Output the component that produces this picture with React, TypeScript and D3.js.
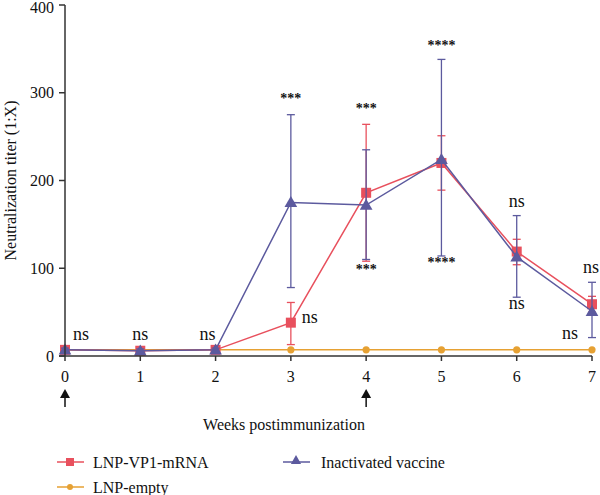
import React from "react";
import * as d3 from "d3";

// Weeks after the first immunization
const weeks = [0, 1, 2, 3, 4, 5, 6, 7];
const yTicks = [0, 100, 200, 300, 400];

// Mean neutralization titer with error-bar low/high per group
const mrnaMean = [7, 6, 7, 38, 186, 220, 119, 59];
const mrnaLow = [5, 5, 5, 13, 108, 189, 104, 50];
const mrnaHigh = [9, 8, 9, 61, 264, 251, 133, 68];

const inactMean = [7, 6, 7, 175, 172, 224, 113, 51];
const inactLow = [5, 5, 5, 78, 110, 114, 67, 21];
const inactHigh = [9, 8, 9, 275, 235, 338, 160, 84];

const emptyMean = [7, 7, 7, 7, 7, 7, 7, 7];

// Significance labels: week, text, offset from the baseline
const annotations: { week: number; text: string; dx: number; dy: number }[] = [
  { week: 0, text: "ns", dx: 16, dy: -16 },
  { week: 1, text: "ns", dx: 0, dy: -16 },
  { week: 2, text: "ns", dx: -8, dy: -16 },
  { week: 3, text: "***", dx: 0, dy: -253 },
  { week: 3, text: "ns", dx: 19, dy: -33 },
  { week: 4, text: "***", dx: 0, dy: -243 },
  { week: 4, text: "***", dx: 0, dy: -82 },
  { week: 5, text: "****", dx: 0, dy: -306 },
  { week: 5, text: "****", dx: 0, dy: -89 },
  { week: 6, text: "ns", dx: 0, dy: -149 },
  { week: 6, text: "ns", dx: 0, dy: -47 },
  { week: 7, text: "ns", dx: -1, dy: -83 },
  { week: 7, text: "ns", dx: -22, dy: -17 },
];
const arrowWeeks = [0, 4];

const RED = "#e8505d";
const PURPLE = "#5c5a9e";
const ORANGE = "#e6a133";
const FONT = "Liberation Serif, Tinos, Times New Roman, DejaVu Serif, serif";

export default function App() {
  const width = 600;
  const height = 495;
  const x = d3.scaleLinear().domain([0, 7]).range([65, 592]);
  const y = d3.scaleLinear().domain([0, 400]).range([356, 5]);
  const line = d3
    .line<number>()
    .x((_, i) => x(weeks[i]))
    .y((d) => y(d));

  const errorBars = (low: number[], high: number[], color: string) =>
    weeks.map((w, i) => (
      <g key={w} stroke={color} strokeWidth={1.3}>
        <line x1={x(w)} x2={x(w)} y1={y(low[i])} y2={y(high[i])} />
        <line x1={x(w) - 4} x2={x(w) + 4} y1={y(low[i])} y2={y(low[i])} />
        <line x1={x(w) - 4} x2={x(w) + 4} y1={y(high[i])} y2={y(high[i])} />
      </g>
    ));

  const triangle = d3.symbol(d3.symbolTriangle, 70)()!;

  return (
    <svg
      width={width}
      height={height}
      style={{ position: "absolute", left: 0, top: 0, background: "#fff", fontFamily: FONT }}
    >
      {/* LNP-empty */}
      <path d={line(emptyMean)!} fill="none" stroke={ORANGE} strokeWidth={1.5} />
      {weeks.map((w, i) => (
        <circle key={w} cx={x(w)} cy={y(emptyMean[i])} r={3.6} fill={ORANGE} />
      ))}

      {/* LNP-VP1-mRNA */}
      {errorBars(mrnaLow, mrnaHigh, RED)}
      <path d={line(mrnaMean)!} fill="none" stroke={RED} strokeWidth={1.5} />
      {weeks.map((w, i) => (
        <rect key={w} x={x(w) - 5} y={y(mrnaMean[i]) - 5} width={10} height={10} fill={RED} />
      ))}

      {/* Inactivated vaccine */}
      {errorBars(inactLow, inactHigh, PURPLE)}
      <path d={line(inactMean)!} fill="none" stroke={PURPLE} strokeWidth={1.5} />
      {weeks.map((w, i) => (
        <path
          key={w}
          d={triangle}
          transform={`translate(${x(w)},${y(inactMean[i]) + 1})`}
          fill={PURPLE}
        />
      ))}

      {/* Axes */}
      <g stroke="#333" strokeWidth={1.5}>
        <line x1={x(0)} x2={x(0)} y1={y(400)} y2={y(0)} />
        <line x1={59} x2={x(7)} y1={y(0)} y2={y(0)} />
        {yTicks.map((t) => (
          <line key={t} x1={59} x2={x(0)} y1={y(t)} y2={y(t)} />
        ))}
        {weeks.map((w) => (
          <line key={w} x1={x(w)} x2={x(w)} y1={y(0)} y2={y(0) + 5} />
        ))}
      </g>
      {yTicks.map((t) => (
        <text
          key={t}
          x={54}
          y={Math.max(y(t), 7)}
          dy="0.35em"
          textAnchor="end"
          fontSize={16}
          fill="#111"
        >
          {t}
        </text>
      ))}
      {weeks.map((w) => (
        <text key={w} x={x(w)} y={y(0) + 26} textAnchor="middle" fontSize={16} fill="#111">
          {w}
        </text>
      ))}
      {arrowWeeks.map((w) => (
        <g key={w}>
          <line x1={x(w)} x2={x(w)} y1={397} y2={407} stroke="#111" strokeWidth={1.5} />
          <path d={`M${x(w) - 5},398 L${x(w)},389 L${x(w) + 5},398 Z`} fill="#111" />
        </g>
      ))}
      <text x={284} y={430} textAnchor="middle" fontSize={16} fill="#111">
        Weeks postimmunization
      </text>
      <text
        transform={`translate(16,${y(200)}) rotate(-90)`}
        textAnchor="middle"
        fontSize={16}
        fill="#111"
      >
        Neutralization titer (1:X)
      </text>

      {/* Significance marks */}
      {annotations.map((a, i) => (
        <text
          key={i}
          x={x(a.week) + a.dx}
          y={y(0) + a.dy}
          textAnchor="middle"
          fontSize={a.text === "ns" ? 18 : 14}
          fontWeight={a.text === "ns" ? "normal" : "bold"}
          fill="#111"
        >
          {a.text}
        </text>
      ))}

      {/* Legend */}
      <g>
        <line x1={57} x2={84} y1={462} y2={462} stroke={RED} strokeWidth={1.5} />
        <rect x={66} y={458} width={8} height={8} fill={RED} />
        <text x={93} y={462} dy="0.35em" fontSize={16} fill="#111">LNP-VP1-mRNA</text>

        <line x1={283} x2={310} y1={462} y2={462} stroke={PURPLE} strokeWidth={1.5} />
        <path d={d3.symbol(d3.symbolTriangle, 45)()!} transform="translate(296,461)" fill={PURPLE} />
        <text x={321} y={462} dy="0.35em" fontSize={16} fill="#111">Inactivated vaccine</text>

        <line x1={57} x2={84} y1={487} y2={487} stroke={ORANGE} strokeWidth={1.5} />
        <circle cx={70} cy={487} r={3} fill={ORANGE} />
        <text x={93} y={487} dy="0.35em" fontSize={16} fill="#111">LNP-empty</text>
      </g>
    </svg>
  );
}
